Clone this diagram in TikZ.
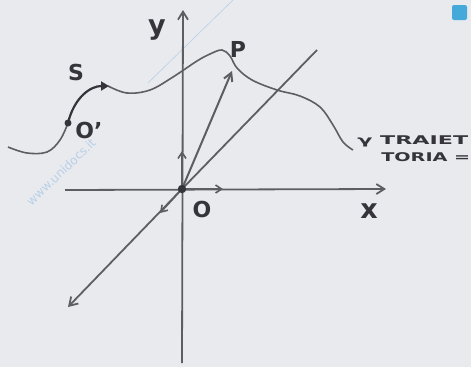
\documentclass[tikz,border=0pt]{standalone}
\usepackage{fontspec}
\setmainfont{DejaVu Sans}
\usetikzlibrary{arrows.meta}
\definecolor{paper}{HTML}{E9EAEE}
\definecolor{pencil}{HTML}{5E5E62}
\definecolor{ink}{HTML}{34343A}
\definecolor{wm}{HTML}{B8D0E8}
\definecolor{badge}{HTML}{45A9DA}
\tikzset{
  axis/.style={pencil, line width=1.8pt, -{Straight Barb[length=8pt,width=10pt]}},
  unitvec/.style={pencil, line width=1.6pt, -{Straight Barb[length=6pt,width=8pt]}},
  lbl/.style={text=ink, font=\fontsize{22}{22}\selectfont\bfseries, inner sep=0pt},
  biglbl/.style={text=ink, font=\fontsize{27}{27}\selectfont\bfseries, inner sep=0pt},
  traj/.style={pencil, line width=1.6pt},
  caption/.style={text=ink, font=\fontsize{12}{12}\selectfont\bfseries, inner sep=0pt, anchor=west},
}
\begin{document}
\begin{tikzpicture}[x=1pt,y=-1pt]
\fill[paper] (0,0) rectangle (471,367);
\useasboundingbox (0,0) rectangle (471,367);
% watermark
\draw[wm, line width=0.6pt] (148,83) -- (233,0);
\node[text=wm, rotate=44, font=\fontsize{12}{12}\selectfont] (wmark) at (61,172) {www.unidocs.it};
% coordinates
\coordinate (O) at (182,189);
\coordinate (xs) at (65,190);
\coordinate (xe) at (386,189);
\coordinate (ys) at (182,363);
\coordinate (ye) at (183,10);
\coordinate (zs) at (317,50);
\coordinate (ze) at (68,307);
\coordinate (ux) at (223,189);
\coordinate (uy) at (182,151);
\coordinate (uz) at (160,213);
\coordinate (P) at (232,71);
\coordinate (Op) at (68,123);
\coordinate (Stip) at (109,86);
% axes
\draw[axis] (xs) -- (xe);
\draw[axis] (ys) -- (ye);
\draw[pencil, line width=1.8pt] (zs) -- (O);
\draw[axis] (O) -- (ze);
% unit vectors
\draw[unitvec] (O) -- (ux);
\draw[unitvec] (O) -- (uy);
\draw[unitvec] (O) -- (uz);
% position vector
\draw[pencil, line width=2pt, -{Straight Barb[length=8pt,width=9pt]}] (O) -- (P);
% trajectory
\draw[traj] plot[smooth, tension=0.6] coordinates {(8,147) (27,153) (47,152) (60,140) (68,123)};
\draw[traj] plot[smooth, tension=0.6] coordinates {(108,86) (127,93) (150,90) (173,77) (197,61) (210,54) (222,50) (230,56) (237,68) (252,80) (277,90) (300,96) (320,107) (333,125) (343,142) (353,150)};
% bold arc S
\draw[ink, line width=2.2pt, -{Triangle[length=8pt,width=9pt]}] (Op) .. controls (74,98) and (90,86) .. (Stip);
% dots
\fill[ink] (O) circle (4.2pt);
\fill[ink] (Op) circle (3.5pt);
% labels
\node[biglbl] (ylbl) at (157,30) {y};
\node[biglbl] (xlbl) at (369,211) {x};
\node[lbl] (Olbl) at (202,209) {O};
\node[lbl] (Oplbl) at (89,130) {O'};
\node[lbl] (Slbl) at (76,72) {S};
\node[lbl] (Plbl) at (238,49) {P};
\node[caption, xscale=1.85] (t1) at (357,141) {γ TRAIET};
\node[caption, xscale=1.6] (t2) at (381,157) {TORIA =};
% badge
\fill[badge, rounded corners=2pt] (452,5) rectangle (467,20);
\end{tikzpicture}
\end{document}
